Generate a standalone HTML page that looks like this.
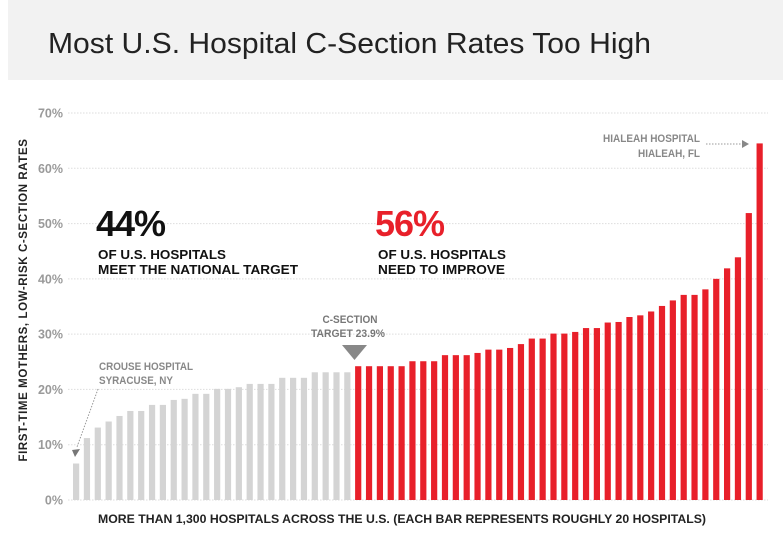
<!DOCTYPE html>
<html><head><meta charset="utf-8"><style>
html,body{margin:0;padding:0;background:#fff;}
svg{display:block;font-family:"Liberation Sans",sans-serif;}
</style></head><body>
<svg id="chart" width="783" height="535" viewBox="0 0 783 535">
<rect x="8" y="0" width="775" height="80" fill="#f2f2f2"/>
<text x="48" y="53" font-size="29" fill="#222" textLength="603" lengthAdjust="spacingAndGlyphs">Most U.S. Hospital C-Section Rates Too High</text>
<g id="grid"></g>
<g id="yticks"></g>
<g id="bars"></g>
<text transform="translate(27,300) rotate(-90)" text-anchor="middle" font-size="11.5" font-weight="bold" fill="#222" letter-spacing="0.6">FIRST-TIME MOTHERS, LOW-RISK C-SECTION RATES</text>
<text x="402" y="523" text-anchor="middle" font-size="11.5" font-weight="bold" fill="#222" textLength="608" lengthAdjust="spacingAndGlyphs">MORE THAN 1,300 HOSPITALS ACROSS THE U.S. (EACH BAR REPRESENTS ROUGHLY 20 HOSPITALS)</text>
<g>
<text x="96" y="236" font-size="36" font-weight="bold" fill="#111" letter-spacing="-1">44%</text>
<text x="98" y="259" font-size="13" font-weight="bold" fill="#111" textLength="128" lengthAdjust="spacingAndGlyphs">OF U.S. HOSPITALS</text>
<text x="98" y="274" font-size="13" font-weight="bold" fill="#111" textLength="200" lengthAdjust="spacingAndGlyphs">MEET THE NATIONAL TARGET</text>
</g>
<g>
<text x="375" y="236" font-size="36" font-weight="bold" fill="#e8202a" letter-spacing="-1">56%</text>
<text x="378" y="259" font-size="13" font-weight="bold" fill="#111" textLength="128" lengthAdjust="spacingAndGlyphs">OF U.S. HOSPITALS</text>
<text x="378" y="274" font-size="13" font-weight="bold" fill="#111" textLength="127" lengthAdjust="spacingAndGlyphs">NEED TO IMPROVE</text>
</g>
<g>
<text x="350" y="323" text-anchor="middle" font-size="11" font-weight="bold" fill="#777" textLength="55" lengthAdjust="spacingAndGlyphs">C-SECTION</text>
<text x="348" y="337" text-anchor="middle" font-size="11" font-weight="bold" fill="#777" textLength="74" lengthAdjust="spacingAndGlyphs">TARGET 23.9%</text>
<polygon points="342,345 367,345 354.5,360" fill="#888"/>
</g>
<g>
<text x="99" y="370" font-size="11" font-weight="bold" fill="#888" textLength="94" lengthAdjust="spacingAndGlyphs">CROUSE HOSPITAL</text>
<text x="99" y="384" font-size="11" font-weight="bold" fill="#888" textLength="74" lengthAdjust="spacingAndGlyphs">SYRACUSE, NY</text>
<line x1="98" y1="389" x2="77" y2="447" stroke="#999" stroke-width="1" stroke-dasharray="1.5,1.5"/>
<polygon points="72,450 80,449 75,457" fill="#777"/>
</g>
<g>
<text x="700" y="142" text-anchor="end" font-size="11" font-weight="bold" fill="#888" textLength="97" lengthAdjust="spacingAndGlyphs">HIALEAH HOSPITAL</text>
<text x="700" y="157" text-anchor="end" font-size="11" font-weight="bold" fill="#888" textLength="62" lengthAdjust="spacingAndGlyphs">HIALEAH, FL</text>
<line x1="706" y1="144" x2="742" y2="144" stroke="#999" stroke-width="1" stroke-dasharray="1.5,1.5"/>
<polygon points="742,140 749,144 742,148" fill="#888"/>
</g>
</svg>
<script>
const grayValues=[6.6,11.2,13.1,14.2,15.2,16.1,16.1,17.2,17.2,18.1,18.3,19.2,19.2,20.1,20.1,20.4,21.0,21.0,21.0,22.1,22.1,22.1,23.1,23.1,23.1,23.1];
const redValues=[24.2,24.2,24.2,24.2,24.2,25.1,25.1,25.1,26.2,26.2,26.2,26.6,27.2,27.2,27.5,28.2,29.2,29.2,30.1,30.1,30.4,31.1,31.1,32.1,32.2,33.1,33.4,34.1,35.1,36.1,37.1,37.1,38.1,40.0,41.9,43.9,51.9,64.5];
const yTicks=[0,10,20,30,40,50,60,70];
const yTickLabels=["0%","10%","20%","30%","40%","50%","60%","70%"];
const NS="http://www.w3.org/2000/svg";
const y0=500,pxPer=(500-113)/70;
function yScale(v){return y0-v*pxPer;}
const firstX=73,pitch=10.85,barW=6.2;
function xScale(i){return firstX+i*pitch;}
const grid=document.getElementById('grid'),yt=document.getElementById('yticks'),bars=document.getElementById('bars');
yTicks.forEach((t,i)=>{
  const y=yScale(t);
  const l=document.createElementNS(NS,'line');
  l.setAttribute('x1',68);l.setAttribute('x2',768);l.setAttribute('y1',y);l.setAttribute('y2',y);
  l.setAttribute('stroke','#ddd');l.setAttribute('stroke-width','1');l.setAttribute('stroke-dasharray','1.5,1.5');
  
  
  grid.appendChild(l);
  const tx=document.createElementNS(NS,'text');
  tx.setAttribute('x',63);tx.setAttribute('y',y+4.5);tx.setAttribute('text-anchor','end');
  tx.setAttribute('font-size','12.5');tx.setAttribute('font-weight','bold');tx.setAttribute('fill','#9a9a9a');
  tx.textContent=yTickLabels[i];
  
  
  yt.appendChild(tx);
});
const all=grayValues.map(v=>[v,'#d4d4d4']).concat(redValues.map(v=>[v,'#e8202a']));
all.forEach((d,i)=>{
  const r=document.createElementNS(NS,'rect');
  const y=yScale(d[0]);
  r.setAttribute('x',xScale(i));r.setAttribute('y',y);r.setAttribute('width',barW);r.setAttribute('height',y0-y);
  r.setAttribute('fill',d[1]);
  
  
  bars.appendChild(r);
});
</script>
</body></html>
